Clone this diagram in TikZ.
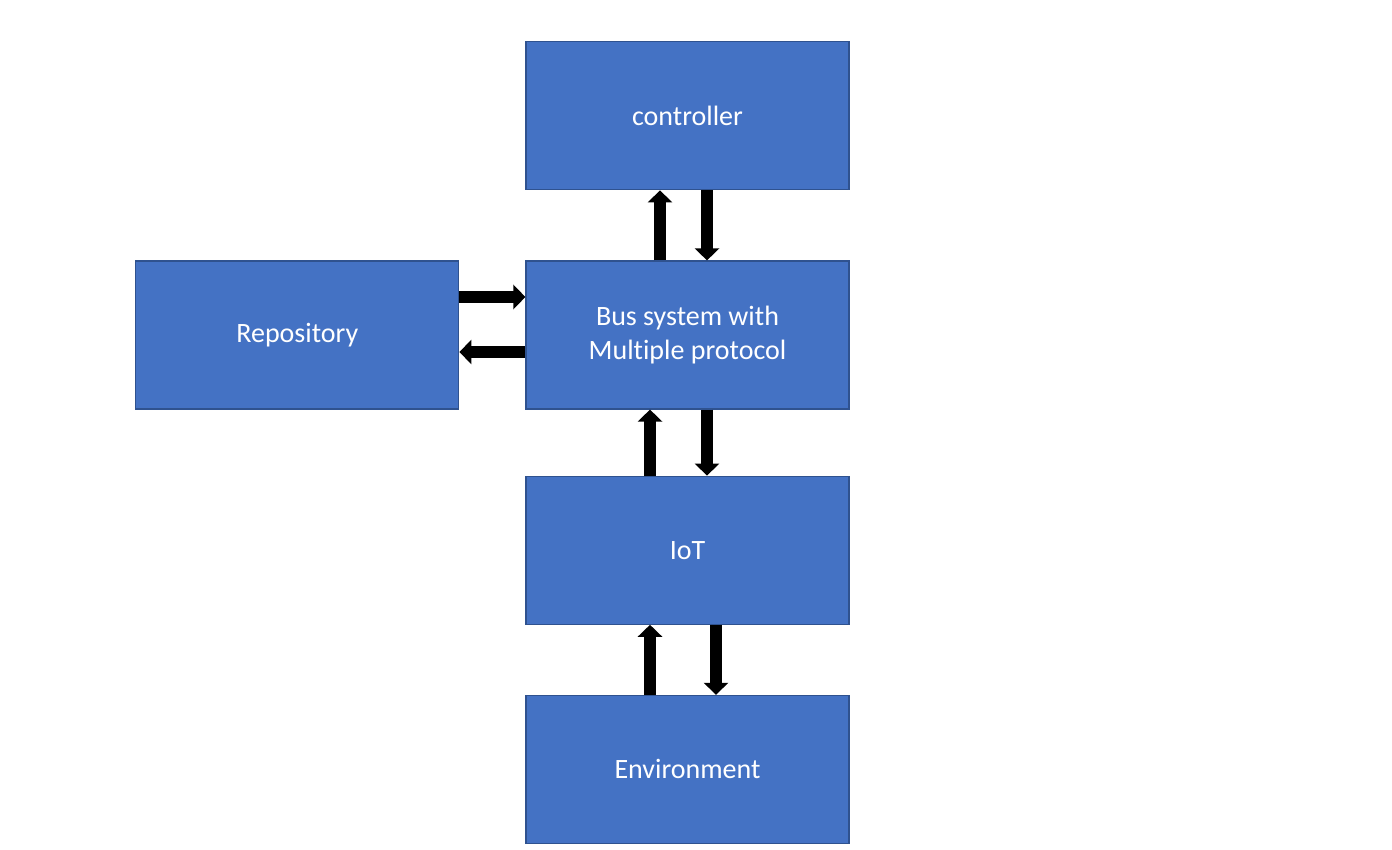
\documentclass[tikz,border=0pt]{standalone}
\usepackage{fontspec}
\setmainfont[Ligatures=NoCommon]{Carlito}
\usepackage{tikz}
\usetikzlibrary{arrows.meta,positioning}
\definecolor{boxblue}{HTML}{4472C4}
\definecolor{boxedge}{HTML}{2F528F}

\begin{document}
\begin{tikzpicture}[node distance=35pt]
\tikzstyle{block}=[rectangle,fill=boxblue,draw=boxedge,line width=0.6pt,minimum width=161.5pt,minimum height=74pt,inner sep=0pt,text=white,font=\fontsize{14}{17}\selectfont,align=center];
\tikzstyle{arrow}=[-{Triangle[width=12pt,length=6pt]},line width=6pt];
\useasboundingbox (0,0) rectangle (696pt,-425pt);
\node (bus) [block] at (343.75pt,-167.5pt) {Bus system with\\Multiple protocol};
\node (ctrl) [block,above=of bus] {controller};
\node (iot) [block,below=33pt of bus] {IoT};
\node (env) [block,below=of iot] {Environment};
\node (repo) [block,left=33pt of bus] {Repository};
\draw [arrow] ([xshift=-13.75pt]bus.north) -- ([xshift=-13.75pt]ctrl.south);
\draw [arrow] ([xshift=9.75pt]ctrl.south) -- ([xshift=9.75pt]bus.north);
\draw [arrow] ([yshift=19pt]repo.east) -- ([yshift=19pt]bus.west);
\draw [arrow] ([yshift=-8.5pt]bus.west) -- ([yshift=-8.5pt]repo.east);
\draw [arrow] ([xshift=-18.75pt]iot.north) -- ([xshift=-18.75pt]bus.south);
\draw [arrow] ([xshift=9.75pt]bus.south) -- ([xshift=9.75pt]iot.north);
\draw [arrow] ([xshift=-18.75pt]env.north) -- ([xshift=-18.75pt]iot.south);
\draw [arrow] ([xshift=14.25pt]iot.south) -- ([xshift=14.25pt]env.north);
\end{tikzpicture}
\end{document}
